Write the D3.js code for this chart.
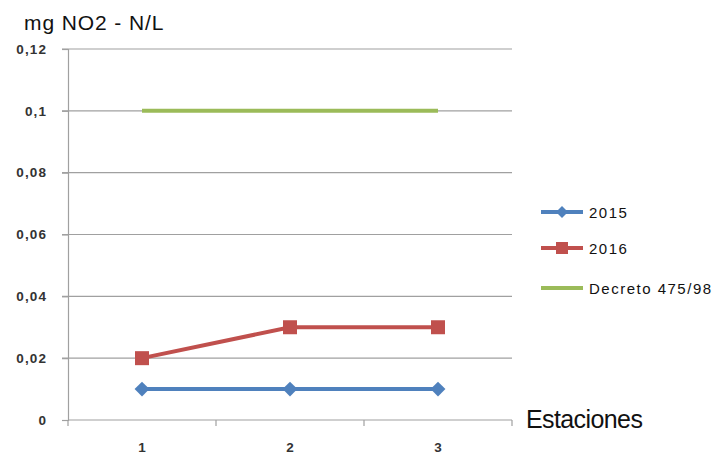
<!DOCTYPE html>
<html>
<head>
<meta charset="utf-8">
<script src="https://cdn.jsdelivr.net/npm/d3@7"></script>
<style>
  html, body { margin: 0; padding: 0; background: #fff; }
  svg { display: block; }
</style>
</head>
<body>
<svg id="chart" width="720" height="455"></svg>
<script>
// Stations along the x axis
const estaciones = ["1", "2", "3"];
// Nitrite concentrations (mg NO2 - N/L) per year
const valores2015 = [0.01, 0.01, 0.01];
const valores2016 = [0.02, 0.03, 0.03];
// Regulatory limit, Decreto 475/98
const limiteDecreto = [0.1, 0.1, 0.1];
// Y axis ticks
const yTicks = [0, 0.02, 0.04, 0.06, 0.08, 0.1, 0.12];

const series = [
  { name: "2015", values: valores2015, color: "#4F81BD", marker: "diamond" },
  { name: "2016", values: valores2016, color: "#C0504D", marker: "square" },
  { name: "Decreto 475/98", values: limiteDecreto, color: "#9BBB59", marker: null }
];

const svg = d3.select("#chart");
const plotLeft = 68, plotRight = 512, plotTop = 49, plotBottom = 420;
const FONT = "Liberation Sans, Arial, sans-serif";

const x = d3.scaleBand().domain(estaciones).range([plotLeft, plotRight]);
const y = d3.scaleLinear().domain([0, 0.12]).range([plotBottom, plotTop]);

const fmt = d => d === 0 ? "0" : String(d).replace(".", ",");

// Horizontal gridlines
svg.append("g")
  .selectAll("line")
  .data(yTicks.filter(d => d > 0))
  .join("line")
  .attr("x1", plotLeft - 6).attr("x2", plotRight)
  .attr("y1", d => y(d)).attr("y2", d => y(d))
  .attr("stroke", "#a0a0a0").attr("stroke-width", 1.2);

// Y axis
const yAxis = svg.append("g")
  .attr("transform", `translate(${plotLeft},0)`)
  .call(d3.axisLeft(y).tickValues(yTicks).tickFormat(fmt).tickSize(6).tickPadding(15));
yAxis.select(".domain").attr("stroke", "#a0a0a0").attr("stroke-width", 1.2);
yAxis.selectAll(".tick line").attr("stroke", "#a0a0a0").attr("stroke-width", 1.2);
yAxis.selectAll("text")
  .attr("font-family", FONT).attr("font-weight", "bold")
  .attr("letter-spacing", 1.1)
  .attr("font-size", 13.5).attr("fill", "#333");

// X axis with tick marks on category boundaries
const xAxisG = svg.append("g").attr("transform", `translate(0,${plotBottom})`);
xAxisG.append("line")
  .attr("x1", plotLeft).attr("x2", plotRight)
  .attr("stroke", "#a0a0a0").attr("stroke-width", 1.2);
const bounds = estaciones.map(d => x(d)).concat([plotRight]);
xAxisG.selectAll("line.tk")
  .data(bounds)
  .join("line").attr("class", "tk")
  .attr("x1", d => d).attr("x2", d => d)
  .attr("y1", 0).attr("y2", 6)
  .attr("stroke", "#a0a0a0").attr("stroke-width", 1.2);
xAxisG.selectAll("text.lbl")
  .data(estaciones)
  .join("text").attr("class", "lbl")
  .attr("x", d => x(d) + x.bandwidth() / 2)
  .attr("y", 32)
  .attr("text-anchor", "middle")
  .attr("font-family", FONT).attr("font-weight", "bold")
  .attr("font-size", 13.5).attr("fill", "#333")
  .text(d => d);

// Lines and markers
const line = d3.line()
  .x((d, i) => x(estaciones[i]) + x.bandwidth() / 2)
  .y(d => y(d));

const markerPath = (kind, side) => d3.symbol().type(d3.symbolSquare).size(side * side)();
const markerRotate = kind => kind === "diamond" ? " rotate(45)" : "";

series.forEach(s => {
  svg.append("path")
    .datum(s.values)
    .attr("d", line)
    .attr("fill", "none")
    .attr("stroke", s.color)
    .attr("stroke-width", 4);
  if (s.marker) {
    const side = s.marker === "diamond" ? 10.5 : 14;
    svg.append("g").selectAll("path")
      .data(s.values)
      .join("path")
      .attr("transform", (d, i) => `translate(${x(estaciones[i]) + x.bandwidth() / 2},${y(d)})${markerRotate(s.marker)}`)
      .attr("d", markerPath(s.marker, side))
      .attr("fill", s.color);
  }
});

// Title and axis name
svg.append("text")
  .attr("x", 24).attr("y", 30)
  .attr("font-family", FONT)
  .attr("font-size", 21).attr("letter-spacing", 0.9)
  .attr("fill", "#111")
  .text("mg NO2 - N/L");

svg.append("text")
  .attr("x", 526).attr("y", 428)
  .attr("font-family", FONT)
  .attr("font-size", 25).attr("letter-spacing", -0.6)
  .attr("fill", "#111")
  .text("Estaciones");

// Legend
const legendRows = [212, 248, 288];
const lg = svg.append("g");
series.forEach((s, i) => {
  const yy = legendRows[i];
  lg.append("line")
    .attr("x1", 541).attr("x2", 583).attr("y1", yy).attr("y2", yy)
    .attr("stroke", s.color).attr("stroke-width", 4);
  if (s.marker) {
    const side = s.marker === "diamond" ? 8.5 : 12;
    lg.append("path")
      .attr("transform", `translate(562,${yy})${markerRotate(s.marker)}`)
      .attr("d", markerPath(s.marker, side))
      .attr("fill", s.color);
  }
  lg.append("text")
    .attr("x", 589).attr("y", yy + 5.5)
    .attr("font-family", FONT)
    .attr("font-size", 15).attr("letter-spacing", 1.5)
    .attr("fill", "#111")
    .text(s.name);
});
</script>
</body>
</html>
